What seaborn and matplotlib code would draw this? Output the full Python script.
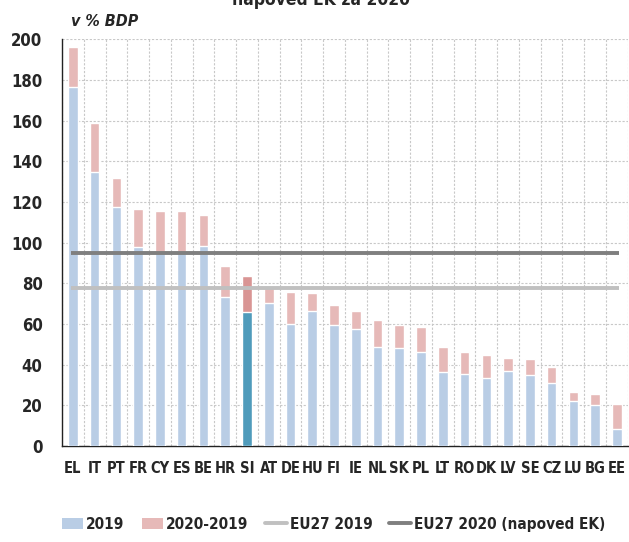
import matplotlib
matplotlib.use("Agg")
import matplotlib.pyplot as plt
from matplotlib import font_manager
from matplotlib.patches import Patch
from matplotlib.lines import Line2D
import seaborn as sns
import pandas as pd

# Public debt, % of GDP: 2019 and EC forecast for 2020
countries = ["EL", "IT", "PT", "FR", "CY", "ES", "BE", "HR", "SI", "AT", "DE", "HU", "FI",
             "IE", "NL", "SK", "PL", "LT", "RO", "DK", "LV", "SE", "CZ", "LU", "BG", "EE"]
debt_2019 = [176.6, 134.8, 117.7, 98.1, 95.5, 95.5, 98.6, 73.2, 66.1, 70.4, 59.8, 66.3, 59.4,
             57.4, 48.6, 48.0, 46.0, 36.3, 35.2, 33.2, 36.9, 35.1, 30.8, 22.1, 20.4, 8.4]
debt_2020 = [196.4, 158.9, 131.6, 116.5, 115.7, 115.6, 113.8, 88.6, 83.7, 78.8, 75.6, 75.0, 69.4,
             66.4, 62.1, 59.5, 58.5, 48.5, 46.2, 44.7, 43.1, 42.6, 38.7, 26.4, 25.5, 20.8]
eu27_2019 = 77.6
eu27_2020 = 95.1
highlight = "SI"

# pick a narrow face when one is installed
NARROW = {"condensed", "semi-condensed", "extra-condensed", "ultra-condensed"}


def is_narrow(e):
    st = e.stretch
    if isinstance(st, (int, float)):
        return st < 500
    return str(st) in NARROW or "Narrow" in e.name or "Condensed" in e.name


narrow = [e for e in font_manager.fontManager.ttflist if is_narrow(e)]
prio = ["Noto Sans", "DejaVu Sans", "Liberation Sans Narrow", "Roboto Condensed"]
narrow.sort(key=lambda e: (prio.index(e.name) if e.name in prio else 99,
                           0 if str(e.stretch) == "condensed" else 1))
if narrow:
    FONT, STRETCH = narrow[0].name, narrow[0].stretch
else:
    FONT, STRETCH = "DejaVu Sans", "normal"

sns.set_style("white")
plt.rcParams["font.family"] = [FONT, "DejaVu Sans"]
plt.rcParams["font.stretch"] = STRETCH
plt.rcParams["font.weight"] = "bold"

c_2019, c_diff = "#b9cde5", "#e6b9b8"
c_2019_hi, c_diff_hi = "#4f9bbb", "#d99594"
c_eu19, c_eu20 = "#c0c0c0", "#7f7f7f"

df = pd.DataFrame({"country": countries, "y2019": debt_2019, "y2020": debt_2020})
pal_top = {c: (c_diff_hi if c == highlight else c_diff) for c in countries}
pal_base = {c: (c_2019_hi if c == highlight else c_2019) for c in countries}

fig = plt.figure(figsize=(6.29, 5.42), dpi=100)
ax = fig.add_axes([0.0986, 0.1771, 0.8994, 0.7504])

sns.barplot(data=df, x="country", y="y2020", hue="country", palette=pal_top,
            width=0.44, legend=False, ax=ax, saturation=1, zorder=2)
sns.barplot(data=df, x="country", y="y2019", hue="country", palette=pal_base,
            width=0.44, legend=False, ax=ax, saturation=1, zorder=3)

n = len(countries)
ax.plot([-0.1, n - 0.9], [eu27_2019, eu27_2019], color=c_eu19, lw=2.8, zorder=4,
        solid_capstyle="butt")
ax.plot([-0.1, n - 0.9], [eu27_2020, eu27_2020], color=c_eu20, lw=2.8, zorder=4,
        solid_capstyle="butt")

ax.set_xlim(-0.5, n - 0.5)
ax.set_ylim(0, 200)
ax.set_yticks(range(0, 201, 20))
ax.set_xticks(range(n))
ax.set_xticklabels(countries)
ax.set_xticks([i - 0.5 for i in range(n + 1)], minor=True)
ax.set_xlabel("")
ax.set_ylabel("")

ax.grid(False)
ax.yaxis.grid(True, color="#c8c8c8", linestyle=(0, (2, 1.5)), lw=0.8, zorder=0)
ax.xaxis.grid(True, which="minor", color="#c8c8c8", linestyle=(0, (2, 1.5)), lw=0.8, zorder=0)
ax.set_axisbelow(True)

for s in ["top", "right"]:
    ax.spines[s].set_visible(False)
for s in ["left", "bottom"]:
    ax.spines[s].set_color("#222222")
    ax.spines[s].set_linewidth(1.0)

ax.tick_params(axis="x", which="major", length=0, pad=11, labelsize=10.5)
ax.tick_params(axis="x", which="minor", length=5, width=1, color="#222222", direction="out")
ax.tick_params(axis="y", length=5, width=1, color="#222222", direction="out", pad=9,
               labelsize=12)

ax.text(0.015, 1.025, "v % BDP", transform=ax.transAxes, fontsize=11.5, style="italic",
        ha="left", va="bottom")

# second line of the title, sitting against the top edge
fig.text(0.51, 0.9905, "napoved EK za 2020", ha="center", va="baseline",
         fontsize=12.5, fontweight="bold")

handles = [Patch(facecolor=c_2019, edgecolor="none"),
           Patch(facecolor=c_diff, edgecolor="none"),
           Line2D([0], [0], color=c_eu19, lw=2.8),
           Line2D([0], [0], color=c_eu20, lw=2.8)]
labels = ["2019", "2020-2019", "EU27 2019", "EU27 2020 (napoved EK)"]
fig.legend(handles, labels, loc="center", bbox_to_anchor=(0.53, 0.033), ncol=4,
           frameon=False, fontsize=11, handlelength=1.4, handletextpad=0.2,
           columnspacing=1.1)

fig.savefig("out.png", dpi=100)
